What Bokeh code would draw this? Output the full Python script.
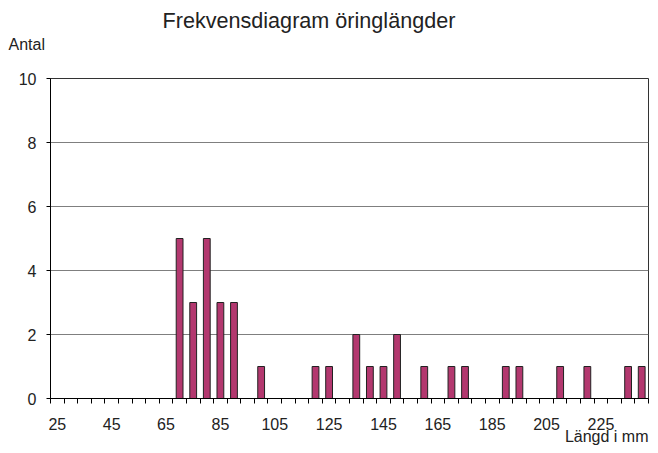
from bokeh.plotting import figure
from bokeh.models import Range1d, FixedTicker, Title, ColumnDataSource
from bokeh.embed import file_html
from bokeh.resources import INLINE

# Data
lengths = list(range(25, 245, 5))
counts_map = {70: 5, 75: 3, 80: 5, 85: 3, 90: 3, 100: 1, 120: 1, 125: 1,
              135: 2, 140: 1, 145: 1, 150: 2, 160: 1, 170: 1, 175: 1,
              190: 1, 195: 1, 210: 1, 220: 1, 235: 1, 240: 1}
counts = [counts_map.get(l, 0) for l in lengths]
x_labels = list(range(25, 245, 20))
y_ticks = [0, 2, 4, 6, 8, 10]

title_text = "Frekvensdiagram öringlängder"
y_title = "Antal"
x_title = "Längd i mm"

FONT = "Liberation Sans"
W, H = 650, 445

p = figure(width=W, height=H, output_backend="svg", toolbar_location=None,
           x_range=Range1d(lengths[0] - 2.5, lengths[-1] + 2.5),
           y_range=Range1d(0, 10),
           min_border_left=50, min_border_right=2,
           min_border_top=78, min_border_bottom=H - 398)
p.background_fill_color = "white"
p.border_fill_color = "white"
p.outline_line_color = "#333333"
p.outline_line_width = 1

src = ColumnDataSource(dict(x=[l for l, c in zip(lengths, counts) if c > 0],
                            top=[c for c in counts if c > 0]))
p.vbar(x="x", top="top", width=2.5, bottom=0, source=src,
       fill_color="#B3386F", line_color="#222222", line_width=1)

# Grid
p.xgrid.visible = False
p.ygrid.ticker = FixedTicker(ticks=y_ticks)
p.ygrid.grid_line_color = "#7f7f7f"
p.ygrid.grid_line_width = 1

# X axis: tick marks at category boundaries (minor), labels at category centres
boundaries = [l - 2.5 for l in lengths] + [lengths[-1] + 2.5]
xa = p.xaxis[0]
xa.ticker = FixedTicker(ticks=x_labels, minor_ticks=boundaries)
xa.major_tick_out = 0
xa.major_tick_in = 0
xa.minor_tick_out = 5
xa.minor_tick_in = 0
xa.minor_tick_line_color = "black"
xa.axis_line_color = "black"
xa.major_label_standoff = 14
xa.major_label_text_font = FONT
xa.major_label_text_font_size = "16px"
xa.major_label_text_color = "#222222"

ya = p.yaxis[0]
ya.ticker = FixedTicker(ticks=y_ticks)
ya.major_tick_out = 4
ya.major_tick_in = 0
ya.minor_tick_out = 0
ya.minor_tick_in = 0
ya.axis_line_color = "black"
ya.major_tick_line_color = "black"
ya.major_label_standoff = 10
ya.major_label_text_font = FONT
ya.major_label_text_font_size = "16px"
ya.major_label_text_color = "#222222"

# Titles
t_antal = Title(text=y_title + "\n", align="left", offset=-42, standoff=17,
                text_font=FONT, text_font_size="16px",
                text_font_style="normal", text_color="#222222")
t_main = Title(text=title_text, align="left", offset=112, standoff=-14,
               text_font=FONT, text_font_size="21.6px",
               text_font_style="normal", text_color="#222222")
p.add_layout(t_antal, "above")
p.add_layout(t_main, "above")

t_x = Title(text=x_title, align="right", offset=0, standoff=-14,
            text_font=FONT, text_font_size="16px",
            text_font_style="normal", text_color="#222222")
p.add_layout(t_x, "below")

open("out.html", "w").write(file_html(p, INLINE))
